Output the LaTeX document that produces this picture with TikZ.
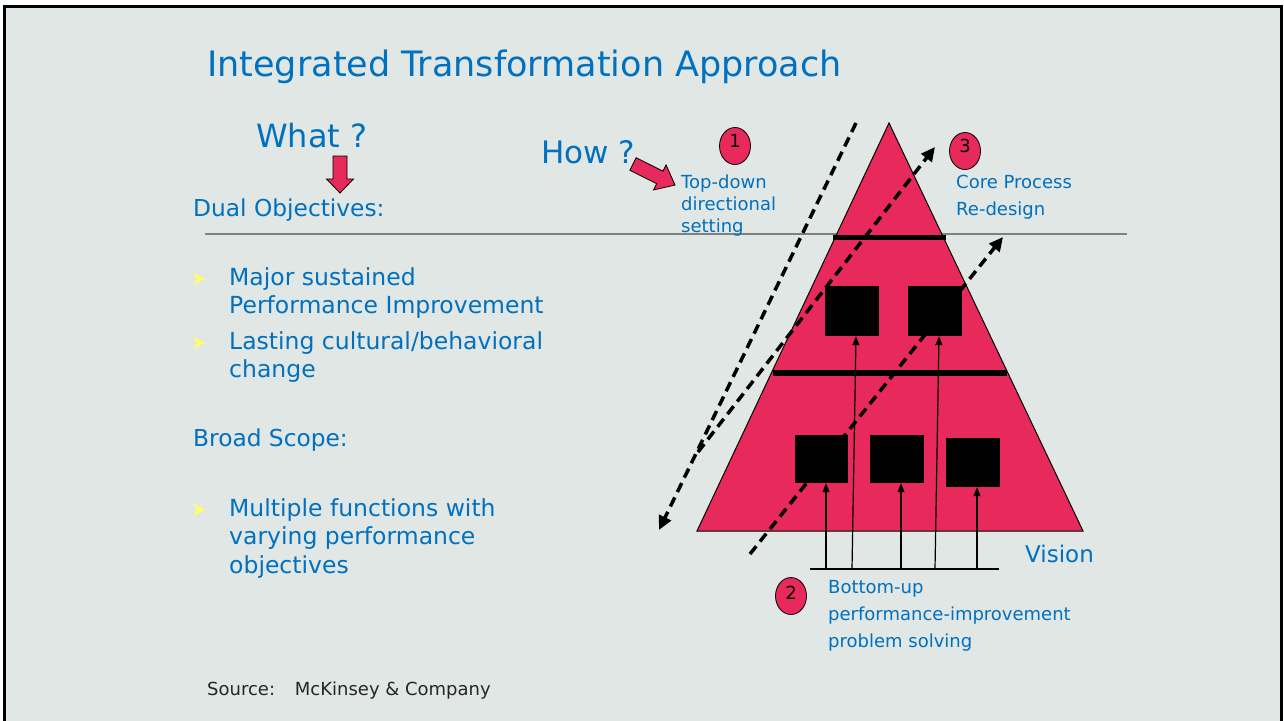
\documentclass[tikz,border=0pt]{standalone}
\usepackage{fontspec}
\setmainfont{DejaVu Sans}
\usetikzlibrary{arrows.meta,shapes.geometric}

\definecolor{slidebg}{RGB}{225,231,228}
\definecolor{txtblue}{RGB}{0,112,192}
\definecolor{pyrred}{RGB}{232,41,92}
\definecolor{bulletyel}{RGB}{255,255,102}

\begin{document}
\begin{tikzpicture}[x=1pt,y=-1pt,
    txt/.style={anchor=base west,inner sep=0pt,text=txtblue,align=left},
    bigtxt/.style={txt,font=\fontsize{23.5}{28.5}\selectfont},
    smalltxt/.style={txt,font=\fontsize{18}{27}\selectfont},
    blackbox/.style={fill=black,inner sep=0pt,minimum width=54pt,minimum height=50pt},
    numdot/.style={ellipse,draw=black,line width=0.8pt,fill=pyrred,inner sep=0pt,
        minimum width=31pt,minimum height=37pt,font=\fontsize{18}{18}\selectfont},
    dasharrow/.style={line width=3.5pt,dash pattern=on 10pt off 6pt,-{Triangle[length=14pt,width=13pt]}},
    upline/.style={line width=1.2pt,-{Triangle[length=9pt,width=7pt]}},
    fatarrow/.style={fill=pyrred,draw=black,line width=0.8pt}]

    \useasboundingbox (0,0) rectangle (1284,720);
    \fill[white] (0,0) rectangle (1284,720);
    \draw[fill=slidebg,line width=3pt] (4.5,6) rectangle (1281.5,730);

    \node[txt,font=\fontsize{35}{40}\selectfont] (title) at (207,76) {Integrated Transformation Approach};

    \draw[gray,line width=2pt] (205,234) -- (1127,234);

    % Pyramid
    \draw[fill=pyrred,line width=1pt] (889,123) -- (1083,531) -- (697,531) -- cycle;
    \draw[line width=5pt] (833,237) -- (946,237);
    \draw[line width=6pt] (773,373) -- (1007,373);

    \node[blackbox] (up1) at (852,311) {};
    \node[blackbox] (up2) at (935,311) {};
    \node[blackbox,minimum width=53pt,minimum height=48pt] (lowA) at (821.5,459) {};
    \node[blackbox,minimum height=48pt] (lowB) at (897,459) {};
    \node[blackbox,minimum height=49pt] (lowC) at (973,462.5) {};

    % Bottom-up arrows
    \coordinate (baseL) at (810,569);
    \coordinate (baseR) at (999,569);
    \draw[line width=1.2pt] (baseL) -- (baseR);
    \coordinate (fA) at (826,569);
    \coordinate (f1) at (852,569);
    \coordinate (fB) at (901,569);
    \coordinate (f2) at (935,569);
    \coordinate (fC) at (977,569);
    \draw[upline] (fA) -- (fA |- lowA.south);
    \draw[upline] (fB) -- (fB |- lowB.south);
    \draw[upline] (fC) -- (fC |- lowC.south);
    \draw[upline] (f1) -- ([xshift=4pt]up1.south);
    \draw[upline] (f2) -- ([xshift=4pt]up2.south);

    % Dashed arrows
    \coordinate (d1s) at (856,123);
    \coordinate (d1e) at (659,530);
    \coordinate (d2s) at (698,452);
    \coordinate (d2e) at (935,147);
    \coordinate (d3s) at (750,554);
    \coordinate (d3e) at (1003,237);
    \draw[dasharrow] (d1s) -- (d1e);
    \draw[dasharrow] (d2s) -- (d2e);
    \draw[dasharrow] (d3s) -- (d3e);

    \node[numdot] (n1) at (735,146) {\raisebox{-1.5pt}[0pt][0pt]{1}};
    \node[numdot] (n3) at (965,151) {\raisebox{-1.5pt}[0pt][0pt]{3}};
    \node[numdot] (n2) at (791,596) {\raisebox{-3.5pt}[0pt][0pt]{2}};

    % Block arrows
    \begin{scope}[shift={(340,156)},rotate=-90]
        \filldraw[fatarrow] (0,-7) -- (23,-7) -- (23,-13.5) -- (37,0) -- (23,13.5) -- (23,7) -- (0,7) -- cycle;
    \end{scope}
    \begin{scope}[shift={(633,164)},rotate=-26.6]
        \filldraw[fatarrow] (0,-7) -- (30,-7) -- (30,-14) -- (47,0) -- (30,14) -- (30,7) -- (0,7) -- cycle;
    \end{scope}

    % Bullets
    \foreach \y in {279,343,510}
        \fill[bulletyel] (193,\y-7) -- (205,\y) -- (193,\y+6) -- (197,\y) -- cycle;

    % Texts
    \node[txt,font=\fontsize{32}{38}\selectfont] (what) at (256,147) {What ?};
    \node[txt,font=\fontsize{31}{38}\selectfont] (how) at (541,163) {How ?};
    \node[txt,font=\fontsize{23.3}{29}\selectfont] (dual) at (193,216) {Dual Objectives:};
    \node[txt,font=\fontsize{18}{22}\selectfont] (topdown) at (681,232) {Top-down\\directional\\setting};
    \node[smalltxt] (core) at (956,215) {Core Process\\Re-design};

    \node[bigtxt] (obj1) at (229,313.5) {Major sustained\\Performance Improvement};
    \node[bigtxt] (obj2) at (229,377.5) {Lasting cultural/behavioral\\change};
    \node[txt,font=\fontsize{23.3}{29}\selectfont] (broad) at (193,446) {Broad Scope:};
    \node[bigtxt] (broad1) at (229,573) {Multiple functions with\\varying performance\\objectives};

    \node[txt,font=\fontsize{23}{28}\selectfont] (vision) at (1025,562) {Vision};
    \node[smalltxt] (bottomup) at (828,647) {Bottom-up\\performance-improvement\\problem solving};
    \node[txt,text=black!85,font=\fontsize{18}{22}\selectfont] (source) at (207,695) {Source:\hspace{1.1em}McKinsey \& Company};
\end{tikzpicture}
\end{document}
